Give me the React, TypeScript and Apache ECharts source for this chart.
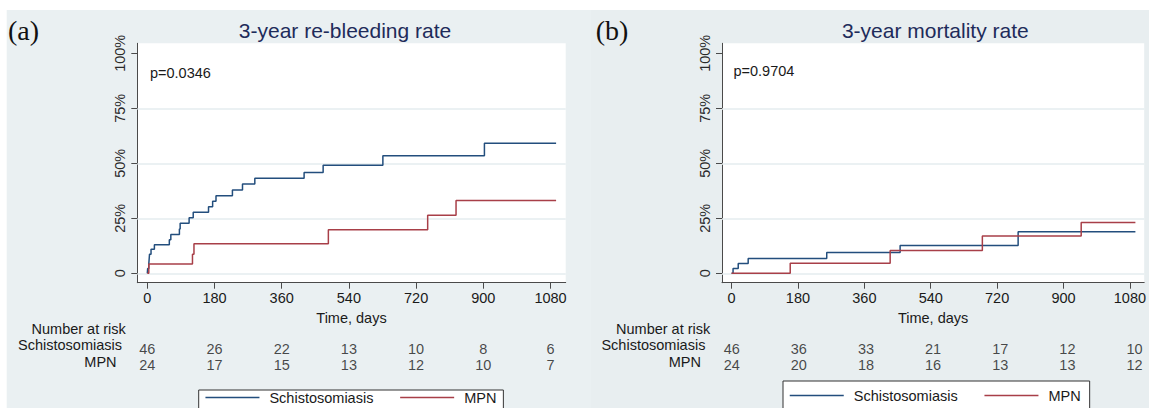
import { useEffect, useRef } from 'react';
import * as echarts from 'echarts';

// ---- data ----
const riskTimes = [0, 180, 360, 540, 720, 900, 1080];
const yTickValues = [0, 25, 50, 75, 100];
const gridLineValues = [0, 25, 50, 75];
const groupNames = ['Schistosomiasis', 'MPN'];

// (a) 3-year re-bleeding: [day, cumulative %]
const rebleedSchisto = [
  [0, 0], [1, 2.2], [4, 4.3], [5, 6.5], [6, 8.7], [10, 10.9], [19, 13.0],
  [59, 15.3], [63, 17.6], [86, 20.1], [88, 22.7], [112, 25.2], [123, 27.7],
  [164, 30.3], [175, 32.8], [184, 35.3], [228, 37.9], [255, 40.6], [288, 43.2],
  [420, 45.8], [471, 49.1], [631, 53.4], [903, 59.1], [1095, 59.1],
];
const rebleedMPN = [
  [0, 0], [4, 4.2], [121, 8.7], [125, 13.4], [485, 19.8], [751, 26.4], [827, 33.1], [1095, 33.1],
];
// (b) 3-year mortality
const mortalitySchisto = [
  [0, 0], [4, 2.2], [18, 4.5], [45, 6.7], [258, 9.5], [457, 12.6], [777, 18.9], [1095, 18.9],
];
const mortalityMPN = [
  [0, 0], [159, 4.6], [430, 10.4], [680, 16.9], [948, 23.1], [1095, 23.1],
];

// numbers at risk
const riskRebleedSchisto = [46, 26, 22, 13, 10, 8, 6];
const riskRebleedMPN = [24, 17, 15, 13, 12, 10, 7];
const riskMortalitySchisto = [46, 36, 33, 21, 17, 12, 10];
const riskMortalityMPN = [24, 20, 18, 16, 13, 13, 12];

const panelTitles = ['3-year re-bleeding rate', '3-year mortality rate'];
const panelTags = ['(a)', '(b)'];
const pValues = ['p=0.0346', 'p=0.9704'];

// ---- styling / layout ----
const FONT = "'Liberation Sans', Arial, Helvetica, sans-serif";
const SERIF = "'Liberation Serif', 'Times New Roman', serif";
const BLUE = '#234E7D';
const RED = '#A83F48';
const AXIS = '#4a4a4a';
const TXT = '#1a1a1a';
const TITLE = '#1E2B5A';
const GRIDLINE = '#E4ECEF';
const FS = 14.5;

const PX_PER_DAY = 67.2 / 180;
const PLOT_TOP = 43.3;
const PLOT_BOTTOM = 282.7;
const Y0 = 273.3;
const PX_PER_PCT = 2.2;

const panels = [
  {
    axisX: 137.3, zeroX: 147.3, rightX: 565.7,
    curves: [rebleedSchisto, rebleedMPN],
    risk: [riskRebleedSchisto, riskRebleedMPN],
    titleX: 345, tagX: 8, pX: 150, pY: 73.3,
    riskLabelX: [125.8, 122, 116.6],
    legend: { left: 198.7, top: 390, padding: [0, 7, 4, 6] },
  },
  {
    axisX: 722, zeroX: 731.7, rightX: 1149.4,
    curves: [mortalitySchisto, mortalityMPN],
    risk: [riskMortalitySchisto, riskMortalityMPN],
    titleX: 935.3, tagX: 595.8, pX: 733.5, pY: 70.7,
    riskLabelX: [710.3, 705.4, 701],
    legend: { left: 783, top: 381, padding: [7, 9, 6, 6] },
  },
];

function buildOption() {
  const grid: any[] = [];
  const xAxis: any[] = [];
  const yAxis: any[] = [];
  const series: any[] = [];
  const legend: any[] = [];
  const graphic: any[] = [
    { type: 'rect', z: -10, shape: { x: 6.7, y: 10, width: 584.3, height: 398 }, style: { fill: '#EAF0F2' } },
    { type: 'rect', z: -10, shape: { x: 591, y: 10, width: 558, height: 398 }, style: { fill: '#E8EEF0' } },
  ];
  const yMin = -(PLOT_BOTTOM - Y0) / PX_PER_PCT;
  const yMax = (Y0 - PLOT_TOP) / PX_PER_PCT;

  panels.forEach((p, i) => {
    const g = i * 2;
    const width = p.rightX - p.axisX;
    const xMin = -(p.zeroX - p.axisX) / PX_PER_DAY;
    const xMax = (p.rightX - p.zeroX) / PX_PER_DAY;
    grid.push({
      left: p.axisX, top: PLOT_TOP, width, height: PLOT_BOTTOM - PLOT_TOP,
      show: true, backgroundColor: '#ffffff', borderWidth: 0,
    });
    grid.push({ left: p.axisX, top: 341.5, width, height: 31.4, show: false });

    xAxis.push({
      type: 'value', gridIndex: g, min: xMin, max: xMax, position: 'bottom',
      axisLine: { show: true, onZero: false, lineStyle: { color: AXIS, width: 1 } },
      axisTick: { show: true, length: 6, customValues: riskTimes, lineStyle: { color: AXIS, width: 1 } },
      axisLabel: {
        customValues: riskTimes, margin: 8, fontSize: FS, color: TXT, fontFamily: FONT,
        formatter: (v: number) => String(Math.round(v)),
      },
      splitLine: { show: false },
      name: 'Time, days', nameLocation: 'middle', nameGap: 25,
      nameTextStyle: { fontSize: FS, color: TXT, fontFamily: FONT },
    });
    xAxis.push({ type: 'value', gridIndex: g + 1, min: xMin, max: xMax, show: false });

    yAxis.push({
      type: 'value', gridIndex: g, min: yMin, max: yMax,
      axisLine: { show: true, onZero: false, lineStyle: { color: AXIS, width: 1 } },
      axisTick: { show: true, length: 6, customValues: yTickValues, lineStyle: { color: AXIS, width: 1 } },
      axisLabel: {
        customValues: yTickValues, rotate: 90, margin: 10, fontSize: FS, color: '#2a2a2a', fontFamily: FONT,
        formatter: (v: number) => (Math.round(v) === 0 ? '0' : Math.round(v) + '%'),
      },
      splitLine: { show: false },
    });
    yAxis.push({ type: 'category', gridIndex: g + 1, data: groupNames, inverse: true, show: false });

    const colors = [BLUE, RED];
    p.curves.forEach((data, k) => {
      series.push({
        type: 'line', name: groupNames[k], xAxisIndex: g, yAxisIndex: g,
        data, step: 'end', symbol: 'none', showSymbol: false, z: 3,
        lineStyle: { color: colors[k], width: 1.5 }, itemStyle: { color: colors[k] },
        emphasis: { disabled: true },
        markLine: k === 0 ? {
          silent: true, z: 1, symbol: ['none', 'none'], label: { show: false },
          lineStyle: { color: GRIDLINE, width: 1.5, type: 'solid' },
          emphasis: { disabled: true },
          data: gridLineValues.map((v) => ({ yAxis: v })),
        } : undefined,
      });
    });

    p.risk.forEach((counts, k) => {
      series.push({
        type: 'scatter', xAxisIndex: g + 1, yAxisIndex: g + 1, silent: true,
        symbolSize: 1, itemStyle: { color: 'rgba(0,0,0,0)' },
        data: riskTimes.map((t, j) => [t, k, counts[j]]),
        label: {
          show: true, position: 'inside', fontSize: FS, color: TXT, fontFamily: FONT,
          formatter: (prm: any) => String(prm.value[2]),
        },
      });
    });

    legend.push({
      data: groupNames, left: p.legend.left, top: p.legend.top, orient: 'horizontal',
      itemWidth: 54, itemHeight: 14, itemGap: 26, padding: p.legend.padding,
      backgroundColor: '#ffffff', borderColor: '#333333', borderWidth: 1, borderRadius: 0,
      selectedMode: false,
      itemStyle: { opacity: 0 },
      lineStyle: { width: 1.5 },
      textStyle: { fontSize: FS, color: TXT, fontFamily: FONT, padding: [0, 0, 0, 5] },
    });

    const txt = (text: string, x: number, y: number, extra: any = {}) => ({
      type: 'text', x, y, z: 10, silent: true,
      style: {
        text, fill: TXT, fontSize: FS, fontFamily: FONT,
        align: 'left', textAlign: 'left', verticalAlign: 'middle', textVerticalAlign: 'middle',
        ...extra,
      },
    });
    graphic.push(txt(panelTags[i], p.tagX, 30, { fontSize: 28, fontFamily: SERIF, fill: '#111111' }));
    graphic.push(txt(panelTitles[i], p.titleX, 30, { fontSize: 21, fill: TITLE, align: 'center', textAlign: 'center' }));
    graphic.push(txt(pValues[i], p.pX, p.pY));
    const r = { align: 'right', textAlign: 'right' };
    graphic.push(txt('Number at risk', p.riskLabelX[0], 329, r));
    graphic.push(txt(groupNames[0], p.riskLabelX[1], 345.4, r));
    graphic.push(txt(groupNames[1], p.riskLabelX[2], 361.6, r));
  });

  return {
    animation: false,
    backgroundColor: '#ffffff',
    textStyle: { fontFamily: FONT },
    grid, xAxis, yAxis, series, legend, graphic,
  };
}

export default function App() {
  const ref = useRef<HTMLDivElement>(null);
  useEffect(() => {
    if (!ref.current) return;
    const chart = echarts.init(ref.current, null, { renderer: 'svg' });
    chart.setOption(buildOption() as any);
    return () => chart.dispose();
  }, []);
  return (
    <div
      ref={ref}
      style={{ position: 'fixed', left: 0, top: 0, width: 1149, height: 408 }}
    />
  );
}
